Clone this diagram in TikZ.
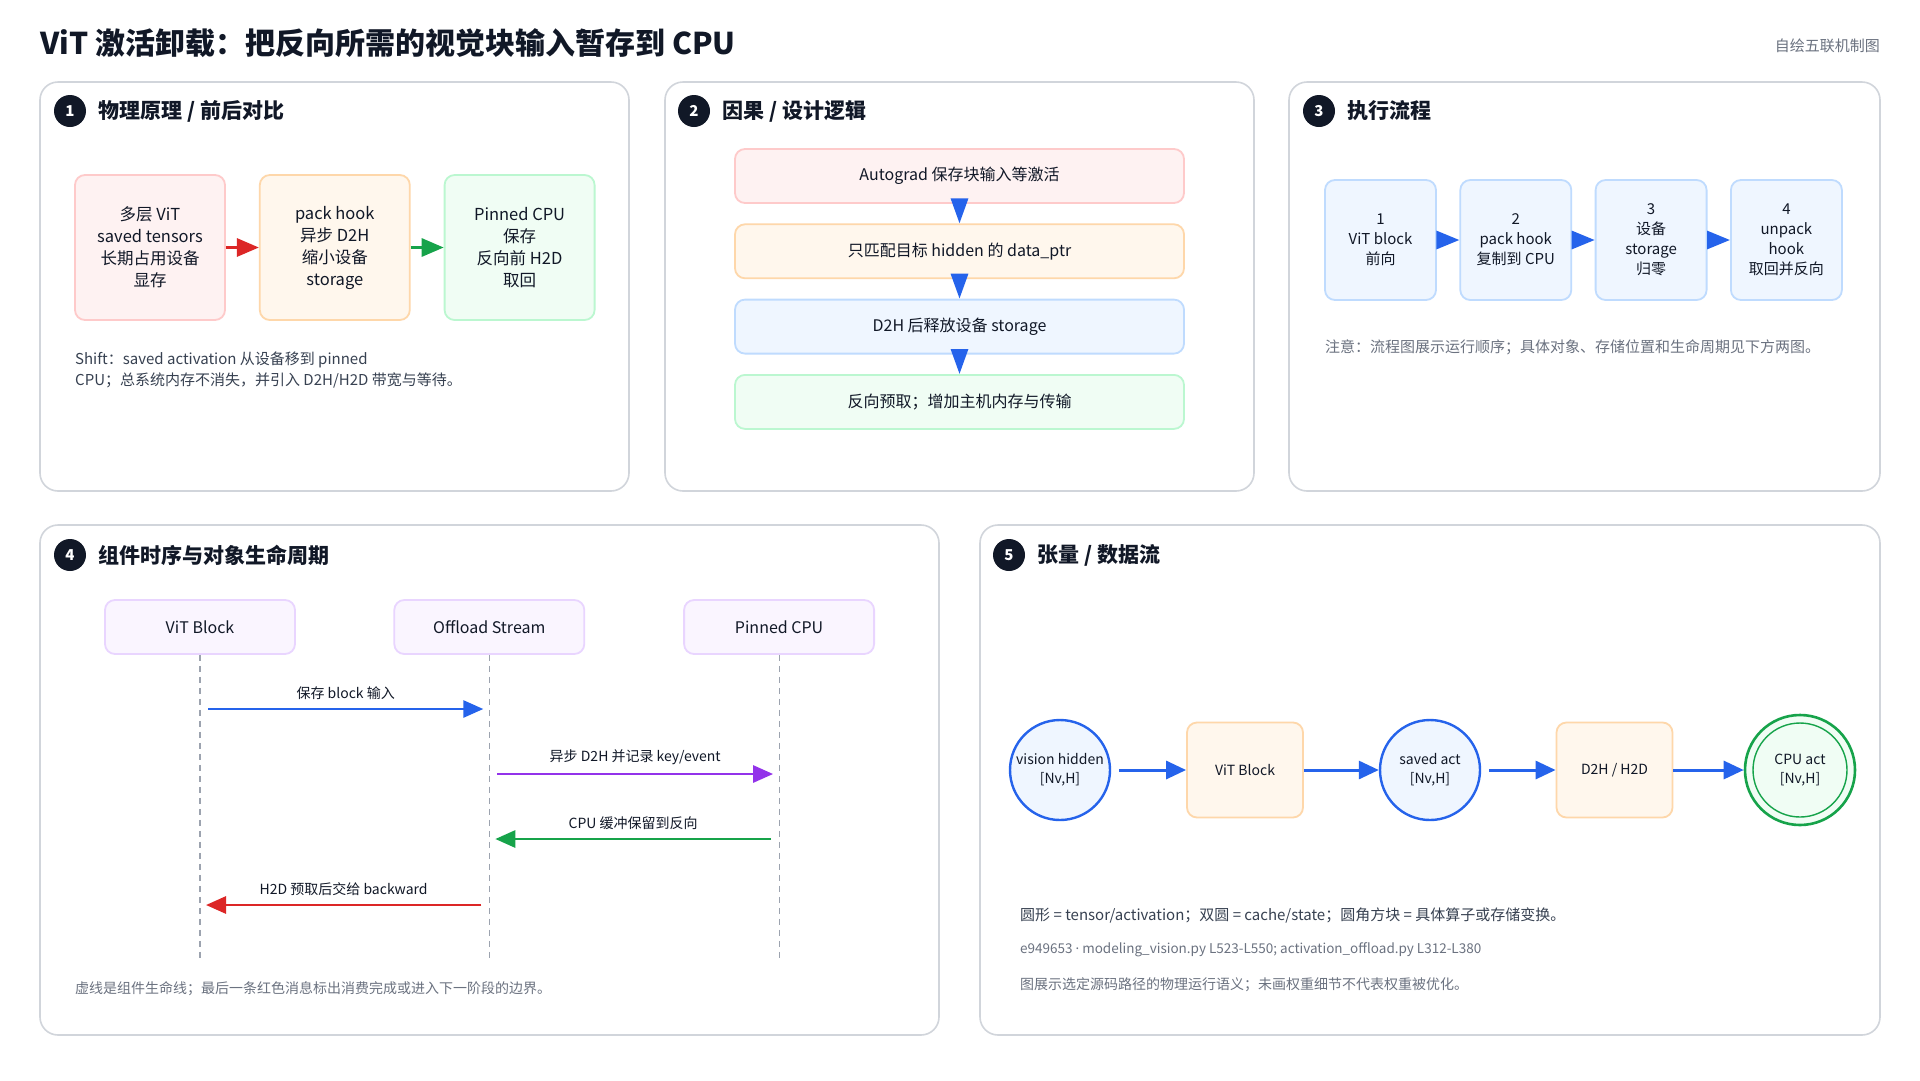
\documentclass[tikz,border=0pt]{standalone}
\usepackage{fontspec}
\setmainfont{Noto Sans CJK SC}
\newfontfamily\latinfont{Noto Sans}
\usetikzlibrary{arrows.meta, positioning}
\definecolor{inkdark}{HTML}{111827}
\definecolor{panelline}{HTML}{D1D5DB}
\definecolor{notegray}{HTML}{374151}
\definecolor{softgray}{HTML}{6B7280}
\definecolor{lifegray}{HTML}{9CA3AF}
\definecolor{redfill}{HTML}{FEF2F2}
\definecolor{redline}{HTML}{FECACA}
\definecolor{orangefill}{HTML}{FFF7ED}
\definecolor{orangeline}{HTML}{FED7AA}
\definecolor{greenfill}{HTML}{F0FDF4}
\definecolor{greenline}{HTML}{BBF7D0}
\definecolor{bluefill}{HTML}{EFF6FF}
\definecolor{blueline}{HTML}{BFDBFE}
\definecolor{purplefill}{HTML}{FAF5FF}
\definecolor{purpleline}{HTML}{E9D5FF}
\definecolor{arrowred}{HTML}{DC2626}
\definecolor{arrowgreen}{HTML}{16A34A}
\definecolor{arrowblue}{HTML}{2563EB}
\definecolor{arrowpurple}{HTML}{9333EA}
\tikzset{
  panel/.style={
    draw=panelline,
    line width=1.6pt,
    rounded corners=18pt,
    fill=white
  },
  badge/.style={
    circle,
    fill=inkdark,
    text=white,
    minimum size=32pt,
    inner sep=0pt,
    font=\fontsize{15}{15}\selectfont\bfseries
  },
  ptitle/.style={
    anchor=west,
    inner sep=0pt,
    text=inkdark,
    font=\fontsize{21}{24}\selectfont\bfseries
  },
  card/.style={
    draw,
    rectangle,
    rounded corners=10pt,
    line width=1.8pt,
    align=center,
    inner sep=0pt,
    text=inkdark
  },
  redcard/.style={card, fill=redfill, draw=redline},
  orangecard/.style={card, fill=orangefill, draw=orangeline},
  greencard/.style={card, fill=greenfill, draw=greenline},
  bluecard/.style={card, fill=bluefill, draw=blueline},
  actor/.style={card, fill=purplefill, draw=purpleline,
    minimum width=190pt, minimum height=54pt,
    font=\fontsize{16}{20}\selectfont},
  tensor/.style={
    circle,
    draw=arrowblue,
    fill=bluefill,
    line width=2.4pt,
    minimum size=100pt,
    inner sep=0pt,
    align=center,
    text=inkdark,
    font=\fontsize{14}{19}\selectfont
  },
  note/.style={
    anchor=west,
    inner sep=0pt,
    align=left,
    text=notegray,
    font=\fontsize{15}{21}\selectfont
  },
  lifeline/.style={
    draw=lifegray,
    line width=1.2pt,
    dash pattern=on 6pt off 5pt
  },
  msglabel/.style={
    midway,
    above=8pt,
    inner sep=0pt,
    text=inkdark,
    font=\fontsize{14}{16}\selectfont
  },
  msg/.style={
    -{Triangle[length=20pt, width=17pt]},
    line width=2.8pt
  },
  flow/.style={
    -{Triangle[length=20pt, width=18pt]},
    line width=3pt,
    arrowblue
  }
}

\begin{document}
\begin{tikzpicture}[x=1pt, y=-1pt]
\useasboundingbox (0,0) rectangle (1920,1080);
\fill[white] (0,0) rectangle (1920,1080);

% --- Titre ---
\node[anchor=west, inner sep=0pt, text=inkdark,
      font=\fontsize{30}{34}\selectfont\bfseries] (title) at (40,43)
  {ViT 激活卸载：把反向所需的视觉块输入暂存到 CPU};
\node[anchor=east, inner sep=0pt, text=softgray,
      font=\fontsize{15}{18}\selectfont] (credit) at (1880,46) {自绘五联机制图};

% --- Panneaux ---
\draw[panel] (40,82) rectangle (629,491);
\draw[panel] (665,82) rectangle (1254,491);
\draw[panel] (1289,82) rectangle (1880,491);
\draw[panel] (40,525) rectangle (939,1035);
\draw[panel] (980,525) rectangle (1880,1035);

% --- 1 : principe ---
\node[badge] (b1) at (70,111) {1};
\node[ptitle, right=12pt of b1] (t1) {物理原理 / 前后对比};

\node[redcard, minimum width=150pt, minimum height=145pt,
      font=\fontsize{16.5}{22}\selectfont] (stack) at (150,247.5)
  {多层 ViT\\saved tensors\\长期占用设备\\显存};
\node[orangecard, minimum width=150pt, minimum height=145pt,
      font=\fontsize{16.5}{22}\selectfont, right=33pt of stack] (packhook)
  {pack hook\\异步 D2H\\缩小设备\\storage};
\node[greencard, minimum width=150pt, minimum height=145pt,
      font=\fontsize{16.5}{22}\selectfont, right=33pt of packhook] (pinned)
  {Pinned CPU\\保存\\反向前 H2D\\取回};

\draw[-{Triangle[length=22pt, width=18pt]}, line width=3pt, arrowred] (stack) -- (packhook);
\draw[-{Triangle[length=22pt, width=18pt]}, line width=3pt, arrowgreen] (packhook) -- (pinned);

\node[note] (n1) at (75,370.5)
  {Shift：saved activation 从设备移到 pinned\\CPU；总系统内存不消失，并引入 D2H/H2D 带宽与等待。};

% --- 2 : causalite ---
\node[badge] (b2) at (694,111) {2};
\node[ptitle, right=12pt of b2] (t2) {因果 / 设计逻辑};

\node[redcard, minimum width=449pt, minimum height=54pt,
      font=\fontsize{16}{20}\selectfont] (autograd) at (959.5,176)
  {Autograd 保存块输入等激活};
\node[orangecard, minimum width=449pt, minimum height=54pt,
      font=\fontsize{16}{20}\selectfont, below=19.5pt of autograd] (matchptr)
  {只匹配目标 hidden 的 data\_ptr};
\node[bluecard, minimum width=449pt, minimum height=54pt,
      font=\fontsize{16}{20}\selectfont, below=19.5pt of matchptr] (release)
  {D2H 后释放设备 storage};
\node[greencard, minimum width=449pt, minimum height=54pt,
      font=\fontsize{16}{20}\selectfont, below=19.5pt of release] (prefetch)
  {反向预取；增加主机内存与传输};

\foreach \a/\b in {autograd/matchptr, matchptr/release, release/prefetch}
  \draw[-{Triangle[length=25pt, width=17pt]}, line width=3pt, arrowblue,
        shorten <=-5pt] (\a) -- (\b);

% --- 3 : flux ---
\node[badge] (b3) at (1319,111) {3};
\node[ptitle, right=12pt of b3] (t3) {执行流程};

\node[bluecard, minimum width=111pt, minimum height=120pt,
      font=\fontsize{15}{20}\selectfont] (fwd) at (1380.5,240)
  {1\\ViT block\\前向};
\node[bluecard, minimum width=111pt, minimum height=120pt,
      font=\fontsize{15}{20}\selectfont, right=22.5pt of fwd] (copy)
  {2\\pack hook\\复制到 CPU};
\node[bluecard, minimum width=111pt, minimum height=120pt,
      font=\fontsize{15}{20}\selectfont, right=22.5pt of copy] (zero)
  {3\\设备\\storage\\归零};
\node[bluecard, minimum width=111pt, minimum height=120pt,
      font=\fontsize{15}{20}\selectfont, right=22.5pt of zero] (unpack)
  {4\\unpack\\hook\\取回并反向};

\foreach \a/\b in {fwd/copy, copy/zero, zero/unpack}
  \draw[-{Triangle[length=23pt, width=18pt]}, line width=3pt, arrowblue] (\a) -- (\b);

\node[note, text=softgray] (n3) at (1325,347)
  {注意：流程图展示运行顺序；具体对象、存储位置和生命周期见下方两图。};

% --- 4 : sequence ---
\node[badge] (b4) at (70,555) {4};
\node[ptitle, right=12pt of b4] (t4) {组件时序与对象生命周期};

\node[actor] (vit) at (200,627) {ViT Block};
\node[actor, right=97.5pt of vit] (offl) {Offload Stream};
\node[actor, right=98pt of offl] (pin) {Pinned CPU};

\coordinate (lifeend) at (0,960);
\foreach \a in {vit, offl, pin}
  \draw[lifeline] (\a.south) -- (\a.south |- lifeend);

\coordinate (m1) at (0,709);
\coordinate (m2) at (0,774);
\coordinate (m3) at (0,839);
\coordinate (m4) at (0,905);

\draw[msg, arrowblue] ([xshift=8pt]vit.south |- m1) --
  node[msglabel] {保存 block 输入} ([xshift=-6pt]offl.south |- m1);
\draw[msg, arrowpurple] ([xshift=8pt]offl.south |- m2) --
  node[msglabel] {异步 D2H 并记录 key/event} ([xshift=-6pt]pin.south |- m2);
\draw[msg, arrowgreen] ([xshift=-8pt]pin.south |- m3) --
  node[msglabel] {CPU 缓冲保留到反向} ([xshift=6pt]offl.south |- m3);
\draw[msg, arrowred] ([xshift=-8pt]offl.south |- m4) --
  node[msglabel] {H2D 预取后交给 backward} ([xshift=6pt]vit.south |- m4);

\node[note, text=softgray, font=\fontsize{14}{18}\selectfont] (n4) at (75,989)
  {虚线是组件生命线；最后一条红色消息标出消费完成或进入下一阶段的边界。};

% --- 5 : flux de tenseurs ---
\node[badge] (b5) at (1009,555) {5};
\node[ptitle, right=12pt of b5] (t5) {张量 / 数据流};

\node[tensor] (hid) at (1060,770) {vision hidden\\{}[Nv,H]};
\node[orangecard, minimum width=116pt, minimum height=95pt,
      font=\fontsize{14}{19}\selectfont] (blk) at (1245,770) {ViT Block};
\node[tensor] (sav) at (1430,770) {saved act\\{}[Nv,H]};
\node[orangecard, minimum width=116pt, minimum height=95pt,
      font=\fontsize{14}{19}\selectfont] (xfer) at (1614.5,770) {D2H / H2D};
\node[tensor, draw=arrowgreen, fill=greenfill, minimum size=110pt,
      line width=2.6pt] (cpuact) at (1800,770) {CPU act\\{}[Nv,H]};
\draw[arrowgreen, line width=1.4pt] (cpuact.center) circle (47pt);

\draw[flow, shorten <=8pt] (hid) -- (blk);
\draw[flow] (blk) -- (sav);
\draw[flow, shorten <=8pt] (sav) -- (xfer);
\draw[flow] (xfer) -- (cpuact);

\node[note] (n5a) at (1020,915)
  {圆形 = tensor/activation；双圆 = cache/state；圆角方块 = 具体算子或存储变换。};
\node[note, text=softgray, font=\fontsize{13.5}{16}\selectfont] (n5b) at (1020,950)
  {e949653 {\latinfont ·} modeling\_vision.py L523-L550; activation\_offload.py L312-L380};
\node[note, text=softgray, font=\fontsize{14}{18}\selectfont] (n5c) at (1020,985)
  {图展示选定源码路径的物理运行语义；未画权重细节不代表权重被优化。};

\end{tikzpicture}
\end{document}
